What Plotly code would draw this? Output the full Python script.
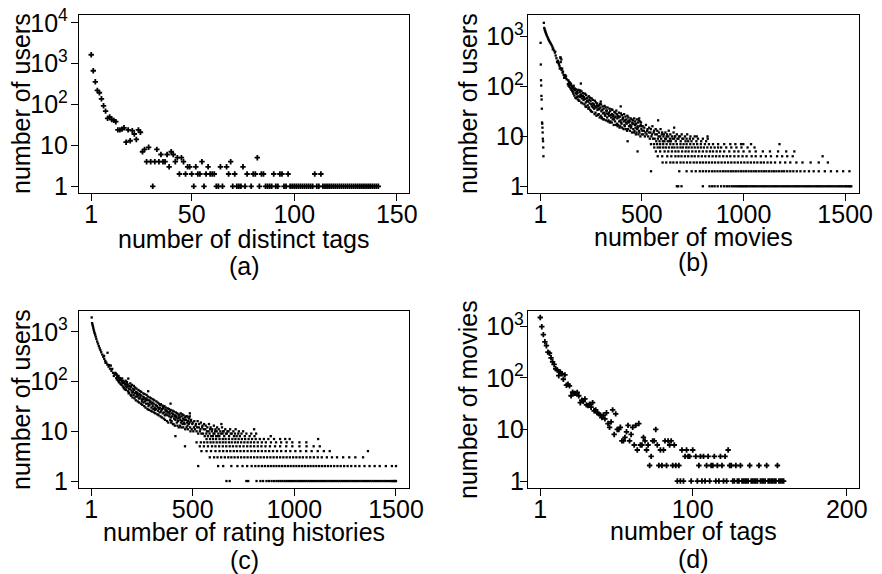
import plotly.graph_objects as go

# ---------------- DATA ----------------
# (a) users vs number of distinct tags (x = 1..141)
a_x = list(range(1, 142))
a_y = [1650, 670, 360, 222, 194, 138, 93, 69, 46, 50,
       43, 41, 38, 24, 24, 25, 27, 12, 24, 13,
       23, 19, 14, 24, 21, 7, 8, 4, 9, 4,
       1, 4, 8, 4, 6, 4, 4, 6, 3, 7,
       6, 4, 5, 2, 5, 4, 2, 3, 3, 2,
       1, 3, 2, 2, 4, 1, 2, 3, 2, 2,
       2, 1, 1, 3, 1, None, 3, 2, 4, 1,
       2, 1, 1, 1, 3, 1, 2, None, 1, 2,
       2, 5, 1, 2, 2, 1, 1, 1, 1, 2,
       1, 1, 2, 2, 1, 1, 2, 1, 1, 1,
       1, 1, 1, 1, 1, 1, 1, 1, 1, 2,
       1, 1, 2, 1, 1, 1, 1, 1, 1, 1,
       1, 1, 1, 1, 1, 1, 1, 1, 1, 1,
       1, 1, 1, 1, 1, 1, 1, 1, 1, 1,
       1]

# (d) movies vs number of tags (x = 1..159)
d_x = list(range(1, 160))
d_y = [1480, 980, 690, 500, 420, 315, 300, 245, 205, 182,
       150, 142, 110, 130, 120, 94, 114, 72, 75, 70,
       45, 53, 50, 50, 52, 45, 33, 37, 35, 39,
       30, 29, 31, 27, 33, 23, 24, 21, 20, 19,
       17, 19, 16, 21, 13, 11, 14, 24, 8, 20,
       10, 10, 11, 6, 6, 7, 9, 12, 6, 8,
       11, 5, 12, 4, 13, 5, 5, 7, 6, 4,
       5, 2, 3, 6, 6, 10, 5, 2, 4, 2,
       4, 6, 2, 6, 5, 6, 2, 5, 2, 1,
       2, 1, 4, 1, 3, 4, 3, 3, 1, 4,
       None, 3, 1, 2, 3, 1, 3, 1, 2, 3,
       1, 2, 2, 3, 1, 2, 1, 3, 2, 1,
       3, 1, 4, 2, 2, 1, 1, 2, 1, 1,
       2, 1, 1, 1, 1, 1, 2, 1, 1, 1,
       1, 1, 2, 1, 1, 1, 1, 2, 1, 1,
       1, 1, 1, 1, 2, 1, 1, 1, 1]

# (b) users vs number of movies
b_col_x = [2, 3, 4, 5, 6, 7, 8, 9, 10, 11, 12, 13, 14, 15, 16]
b_col_y = [755, 277, 134, 105, 65, 55, 36, 19, 18, 15, 12, 9, 8, 6, 4]
b_head_x = [18, 20, 22, 24, 26, 28, 30, 33, 36, 39, 42, 45, 48, 52, 56, 60, 64, 68,
            72, 76, 80, 85, 90, 95, 100, 105, 110, 115, 120, 125, 130,
            99, 101, 62, 74, 88, 108, 118, 127, 92, 112, 83, 96, 123]
b_head_y = [1900, 1500, 1400, 1320, 1250, 1180, 1120, 1050, 980, 920, 860, 820, 770, 730,
            680, 630, 580, 530, 480, 420, 370, 320, 300, 260, 235, 215, 190, 172, 160,
            150, 140, 385, 310, 560, 500, 330, 230, 150, 160, 280, 200, 310, 230, 170]
b_band_x = [136, 144, 152, 160, 168, 176, 184, 192, 200, 208, 216, 224, 232, 240, 248,
            256, 264, 272, 280, 288, 296, 304, 312, 320, 328, 336, 344, 352, 360, 368,
            376, 384, 392, 400, 408, 416, 424, 432, 440, 448, 456, 464, 472, 480, 488, 496]
b_band_y = [[112, 134, 104, 126, 118], [99, 121, 108, 92, 115], [110, 86, 101, 93, 82],
            [78, 96, 72, 104, 88], [66, 92, 84, 60, 75], [88, 58, 70, 80, 62],
            [74, 55, 86, 64, 52], [52, 78, 62, 84, 68], [70, 48, 80, 58, 64],
            [46, 66, 74, 54, 60], [62, 44, 56, 72, 40], [48, 68, 39, 58, 52],
            [60, 42, 50, 36, 64], [38, 54, 46, 60, 34], [52, 32, 44, 58, 40],
            [31, 46, 54, 38, 42], [44, 36, 28, 52, 40], [30, 48, 38, 26, 42],
            [46, 34, 27, 40, 36], [28, 42, 35, 24, 45], [38, 26, 44, 32, 23],
            [24, 34, 40, 29, 22], [36, 22, 30, 41, 27], [26, 38, 21, 33, 29],
            [33, 24, 38, 20, 28], [21, 30, 26, 36, 19], [32, 20, 27, 24, 35],
            [19, 28, 34, 22, 25], [27, 17, 22, 31, 24], [20, 30, 25, 17, 33],
            [28, 18, 23, 16, 26], [17, 24, 30, 20, 15], [25, 16, 21, 29, 19],
            [18, 27, 15, 22, 24], [23, 14, 20, 28, 17], [16, 21, 25, 14, 19],
            [22, 18, 13, 26, 20], [14, 24, 19, 16, 21], [20, 13, 17, 23, 15],
            [16, 22, 12, 19, 18], [21, 14, 18, 12, 23], [13, 17, 20, 15, 11],
            [18, 12, 22, 14, 16], [15, 19, 11, 21, 13], [12, 16, 20, 10, 17],
            [19, 14, 11, 16, 13]]
b_tail_x = [504, 512, 520, 528, 536, 544, 552, 560, 568, 576, 584, 592, 600, 608, 616,
            624, 632, 640, 648, 656, 664, 672, 680, 688, 696, 704, 712, 720, 728, 736,
            744, 752, 760, 768, 776, 784, 792, 800, 808, 816, 824]
b_tail_y = [[16, 11, 13], [15, 10, 12], [17, 11, 13], [14, 10, 12], [15, 9, 12], [14, 10, 11],
            [16, 9, 12], [13, 9, 11], [14, 8, 11], [13, 9, 10], [12, 8, 10], [14, 9, 11],
            [12, 8, 10], [11, 8, 9], [12, 9, 10], [11, 8, 10], [13, 8, 9], [11, 8],
            [10, 9], [12, 9, 10], [10, 8], [11, 9], [9, 10], [10, 8],
            [11, 9], [9], [10, 8], [9, 11], [8], [9, 10],
            [8], [9], [10], [8], [9], [],
            [8], [9], [], [8], [9]]
b_out_x = [100, 104, 200, 298, 396, 487, 580, 659, 770, 823, 999, 1037, 1177, 430, 479]
b_out_y = [380, 350, 115, 50, 40, 23, 21, 15, 10, 10, 7, 7, 7, 8, 5]
b_r7 = [545, 560, 575, 590, 605, 622, 640, 655, 672, 690, 705, 720, 738, 755, 772, 790,
        810, 830, 850, 875, 905, 935, 960, 988]
b_r6 = [561, 578, 590, 605, 618, 633, 648, 660, 675, 690, 702, 718, 730, 745, 760, 775,
        790, 805, 822, 840, 858, 875, 890, 915, 940, 965, 990, 1020, 1054]
b_r5 = [569, 590, 612, 630, 648, 665, 680, 698, 715, 730, 748, 765, 782, 800, 818, 835,
        850, 868, 885, 905, 930, 955, 975, 1000, 1030, 1060, 1095, 1130, 1170, 1210, 1250]
b_r4 = [578, 600, 625, 645, 665, 680, 695, 712, 728, 745, 760, 778, 795, 812, 830, 848,
        865, 882, 900, 918, 935, 955, 975, 995, 1015, 1040, 1060, 1085, 1110, 1135, 1165,
        1190, 1215, 1242, 1389]
b_r3 = [602, 620, 640, 655, 672, 690, 705, 722, 738, 755, 770, 786, 800, 815, 830, 845,
        860, 876, 892, 908, 924, 940, 956, 972, 988, 1004, 1020, 1036, 1052, 1068, 1085,
        1100, 1118, 1135, 1155, 1180, 1205, 1230, 1260, 1290, 1330, 1370, 1415]
b_r2 = [545, 684, 720, 745, 765, 785, 800, 815, 830, 845, 858, 872, 886, 900, 912, 925,
        938, 950, 962, 975, 988, 1000, 1012, 1025, 1038, 1050, 1062, 1075, 1088, 1100,
        1112, 1125, 1138, 1150, 1162, 1175, 1188, 1200, 1215, 1230, 1245, 1262, 1280,
        1300, 1322, 1345, 1370, 1400, 1430, 1460, 1490, 1521]
b_r1 = [672, 679, 695, 800, 833, 846, 858, 873, 890, 905, 918, 930, 942, 952, 962, 972,
        980, 988, 996, 1004, 1012, 1020, 1029, 1038, 1047, 1056, 1065, 1074, 1083, 1092,
        1101, 1110, 1119, 1128, 1137, 1146, 1155, 1164, 1173, 1182, 1191, 1200, 1209,
        1218, 1227, 1236, 1245, 1254, 1263, 1272, 1281, 1290, 1299, 1308, 1317, 1326,
        1335, 1344, 1353, 1362, 1371, 1380, 1389, 1398, 1407, 1416, 1425, 1434, 1443,
        1452, 1461, 1470, 1479, 1488, 1497, 1504, 1511, 1518, 1524, 1530]

# (c) users vs number of rating histories
c_head_x = [3, 5, 7, 9, 11, 13, 15, 17, 20, 23, 26, 30, 34, 38, 42, 46, 50, 55, 60, 65,
            70, 75, 80, 86, 93, 100, 108, 116, 81, 64, 97, 112, 122, 71, 104, 89, 119]
c_head_y = [1950, 1500, 1400, 1300, 1200, 1100, 1020, 950, 880, 800, 720, 640, 580, 520,
            470, 430, 390, 350, 315, 285, 260, 240, 220, 200, 182, 165, 150, 138, 380,
            330, 210, 130, 145, 240, 180, 215, 150]
c_band_x = [124, 132, 140, 148, 156, 164, 172, 180, 188, 196, 204, 212, 220, 228, 236,
            244, 252, 260, 268, 276, 284, 292, 300, 308, 316, 324, 332, 340, 348, 356,
            364, 372, 380, 388, 396, 404, 412, 420, 428, 436, 444, 452, 460, 468, 476, 484]
c_band_y = [[118, 140, 110, 132, 124], [122, 104, 130, 98, 114], [96, 118, 108, 90, 112],
            [108, 86, 100, 116, 92], [80, 104, 94, 74, 98], [96, 70, 88, 80, 104],
            [68, 90, 76, 98, 84], [88, 64, 80, 58, 72], [60, 82, 70, 92, 54],
            [78, 52, 66, 86, 60], [48, 72, 62, 54, 82], [68, 46, 58, 76, 50],
            [42, 62, 72, 50, 56], [60, 40, 52, 68, 46], [38, 56, 46, 64, 50],
            [54, 36, 62, 44, 40], [34, 50, 44, 58, 38], [48, 32, 56, 40, 44],
            [30, 46, 36, 54, 42], [44, 28, 50, 36, 32], [27, 42, 34, 48, 38],
            [40, 26, 46, 30, 36], [25, 38, 32, 44, 28], [36, 24, 42, 30, 27],
            [23, 34, 28, 40, 32], [32, 22, 38, 26, 30], [21, 36, 28, 24, 34],
            [30, 20, 35, 25, 27], [19, 28, 33, 23, 31], [29, 18, 24, 32, 21],
            [17, 27, 30, 22, 25], [26, 16, 21, 29, 24], [15, 24, 28, 20, 22],
            [25, 17, 27, 19, 15], [16, 23, 20, 26, 14], [22, 14, 25, 18, 20],
            [13, 21, 17, 24, 19], [20, 15, 23, 13, 18], [16, 22, 12, 19, 21],
            [19, 13, 17, 23, 15], [12, 20, 16, 22, 14], [18, 12, 21, 15, 17],
            [14, 19, 11, 17, 20], [17, 12, 15, 20, 13], [11, 16, 19, 14, 18],
            [15, 20, 12, 10, 16]]
c_tail_x = [492, 500, 508, 516, 524, 532, 540, 548, 556, 564, 572, 580, 588, 596, 604,
            612, 620, 628, 636, 644, 652, 660, 668, 676, 684, 692, 700, 708, 716, 724,
            732, 740, 748, 756, 764, 772, 780, 788, 796, 804, 812]
c_tail_y = [[17, 11, 14], [15, 10, 12], [16, 11, 13], [14, 10, 12], [16, 9, 12], [14, 10, 11],
            [15, 9, 12], [13, 9, 11], [14, 8, 11], [13, 9, 10], [12, 8, 10], [14, 9, 11],
            [12, 8, 10], [11, 8, 9], [13, 9, 10], [11, 8, 10], [12, 8, 9], [11, 8],
            [10, 9], [12, 9, 10], [10, 8], [11, 9], [9, 10], [10, 8],
            [11, 9], [9], [10, 8], [9, 11], [8], [9, 10],
            [8], [9], [10], [8], [9], [],
            [8], [9], [], [8], [9]]
c_out_x = [183, 281, 391, 486, 641, 802, 884, 1117, 415, 462]
c_out_y = [115, 64, 36, 23, 14, 11, 8, 7, 8, 5]
c_r7 = [568, 585, 600, 615, 632, 648, 662, 678, 695, 710, 726, 742, 758, 775, 792, 810,
        830, 850, 872, 900, 930, 955, 977]
c_r6 = [519, 540, 556, 572, 588, 602, 618, 633, 648, 662, 678, 692, 708, 722, 738, 754,
        770, 786, 802, 820, 840, 860, 885, 910, 935, 962, 990, 1025, 1059]
c_r5 = [535, 555, 575, 595, 612, 630, 648, 665, 682, 698, 715, 732, 750, 768, 785, 802,
        820, 838, 858, 880, 905, 930, 960, 990, 1025, 1060, 1095, 1125]
c_r4 = [543, 568, 590, 612, 632, 650, 668, 685, 702, 718, 735, 752, 770, 788, 805, 822,
        840, 858, 876, 895, 915, 935, 958, 980, 1005, 1030, 1058, 1085, 1115, 1145, 1174, 1362]
c_r3 = [584, 605, 622, 640, 658, 675, 690, 706, 722, 738, 754, 770, 786, 802, 818, 834,
        850, 866, 882, 898, 914, 930, 946, 962, 978, 994, 1010, 1026, 1042, 1060, 1078,
        1096, 1115, 1135, 1160, 1185, 1210, 1240, 1270, 1300, 1338]
c_r2 = [527, 625, 650, 690, 720, 745, 768, 790, 808, 824, 840, 855, 870, 884, 898, 912,
        926, 940, 954, 968, 982, 996, 1010, 1024, 1038, 1052, 1066, 1080, 1094, 1108,
        1122, 1136, 1150, 1165, 1180, 1196, 1212, 1228, 1245, 1262, 1280, 1300, 1320,
        1345, 1370, 1395, 1420, 1450, 1480, 1500]
c_r1 = [666, 682, 764, 773, 814, 833, 846, 863, 875, 888, 900, 912, 922, 932, 942, 952,
        961, 970, 979, 988, 997, 1006, 1015, 1024, 1033, 1042, 1051, 1060, 1069, 1078,
        1087, 1096, 1105, 1114, 1123, 1132, 1141, 1150, 1159, 1168, 1177, 1186, 1195,
        1204, 1213, 1222, 1231, 1240, 1249, 1258, 1267, 1276, 1285, 1294, 1303, 1312,
        1321, 1330, 1339, 1348, 1357, 1366, 1375, 1384, 1393, 1402, 1411, 1420, 1429,
        1438, 1447, 1456, 1465, 1474, 1480, 1486, 1491, 1496, 1500]

# axis tick labels
log_vals4 = [1, 10, 100, 1000, 10000]
log_text4 = ["1", "10", "10<sup>2</sup>", "10<sup>3</sup>", "10<sup>4</sup>"]
log_vals3 = [1, 10, 100, 1000]
log_text3 = ["1", "10", "10<sup>2</sup>", "10<sup>3</sup>"]

# ---------------- BUILD ----------------
W, H = 882, 574
OFF = 8  # page body margin of the html page
FONT = "Liberation Sans, Arial, Helvetica, sans-serif"
FS = 25


def nested(xs, ys, step):
    ox, oy = [], []
    for x0, vals in zip(xs, ys):
        for j, v in enumerate(vals):
            ox.append(x0 + j * step)
            oy.append(v)
    return ox, oy


def rows(row_lists):
    ox, oy = [], []
    for k, xs in row_lists:
        ox += xs
        oy += [k] * len(xs)
    return ox, oy


fig = go.Figure()
big = dict(symbol="cross", size=4.5, color="black", line=dict(width=0))
small = dict(symbol="square", size=2.3, color="black", line=dict(width=0))

fig.add_trace(go.Scatter(x=a_x, y=a_y, mode="markers", marker=big, xaxis="x", yaxis="y"))

bx, by = [], []
bx += b_col_x; by += b_col_y
bx += b_head_x; by += b_head_y
t = nested(b_band_x, b_band_y, 1.6); bx += t[0]; by += t[1]
t = nested(b_tail_x, b_tail_y, 3); bx += t[0]; by += t[1]
bx += b_out_x; by += b_out_y
t = rows([(7, b_r7), (6, b_r6), (5, b_r5), (4, b_r4), (3, b_r3), (2, b_r2), (1, b_r1)])
bx += t[0]; by += t[1]
fig.add_trace(go.Scatter(x=bx, y=by, mode="markers", marker=small, xaxis="x2", yaxis="y2"))

cx, cy = [], []
cx += c_head_x; cy += c_head_y
t = nested(c_band_x, c_band_y, 1.6); cx += t[0]; cy += t[1]
t = nested(c_tail_x, c_tail_y, 3); cx += t[0]; cy += t[1]
cx += c_out_x; cy += c_out_y
t = rows([(7, c_r7), (6, c_r6), (5, c_r5), (4, c_r4), (3, c_r3), (2, c_r2), (1, c_r1)])
cx += t[0]; cy += t[1]
fig.add_trace(go.Scatter(x=cx, y=cy, mode="markers", marker=small, xaxis="x3", yaxis="y3"))

fig.add_trace(go.Scatter(x=d_x, y=d_y, mode="markers", marker=big, xaxis="x4", yaxis="y4"))

common = dict(showline=True, mirror=True, linecolor="black", linewidth=1.3,
              ticks="outside", ticklen=7, tickwidth=1.2, tickcolor="black",
              showgrid=False, zeroline=False, automargin=False,
              ticklabeloverflow="allow",
              tickfont=dict(family=FONT, size=FS, color="black"))
xcommon = dict(common, ticklabelstandoff=-8)


def dx(l, r):
    return [(l - OFF) / W, (r - OFF) / W]


def dy(t_, b_):
    return [1 - (b_ - OFF) / H, 1 - (t_ - OFF) / H]


top = dy(15, 193)
bot = dy(311, 488)
left = dx(79, 409)
right = dx(528, 859)

fig.update_layout(
    width=W, height=H, margin=dict(l=0, r=0, t=0, b=0, autoexpand=False),
    paper_bgcolor="white", plot_bgcolor="white", showlegend=False,
    xaxis=dict(xcommon, domain=left, range=[-4.96, 155.96], tickvals=[1, 50, 100, 150], anchor="y"),
    yaxis=dict(common, domain=top, type="log", range=[-0.164, 4.19],
               tickvals=log_vals4, ticktext=log_text4, anchor="x", ticklabelstandoff=-2),
    xaxis2=dict(xcommon, domain=right, range=[-60, 1568], tickvals=[1, 500, 1000, 1500], anchor="y2"),
    yaxis2=dict(common, domain=top, type="log", range=[-0.135, 3.436],
                tickvals=log_vals3, ticktext=log_text3, anchor="x2", ticklabelstandoff=-9),
    xaxis3=dict(xcommon, domain=left, range=[-59.4, 1564], tickvals=[1, 500, 1000, 1500], anchor="y3"),
    yaxis3=dict(common, domain=bot, type="log", range=[-0.14, 3.42],
                tickvals=log_vals3, ticktext=log_text3, anchor="x3", ticklabelstandoff=-2),
    xaxis4=dict(xcommon, domain=right, range=[-6.96, 207.96], tickvals=[1, 100, 200], anchor="y4"),
    yaxis4=dict(common, domain=bot, type="log", range=[-0.135, 3.296],
                tickvals=log_vals3, ticktext=log_text3, anchor="x4", ticklabelstandoff=-9),
)

labels = [
    ("number of users", 21, 104, -90), ("number of distinct tags", 244, 239, 0), ("(a)", 244, 266, 0),
    ("number of users", 468, 104, -90), ("number of movies", 693, 237, 0), ("(b)", 693, 262, 0),
    ("number of users", 21, 400, -90), ("number of rating histories", 244, 532, 0), ("(c)", 244, 560, 0),
    ("number of movies", 468, 400, -90), ("number of tags", 693, 531, 0), ("(d)", 693, 559, 0),
]
for text, x, y, ang in labels:
    fig.add_annotation(text=text, x=(x - OFF) / W, y=1 - (y - OFF) / H, xref="paper", yref="paper",
                       showarrow=False, textangle=ang, xanchor="center", yanchor="middle",
                       font=dict(family=FONT, size=FS, color="black"))

fig.write_html("out.html")
